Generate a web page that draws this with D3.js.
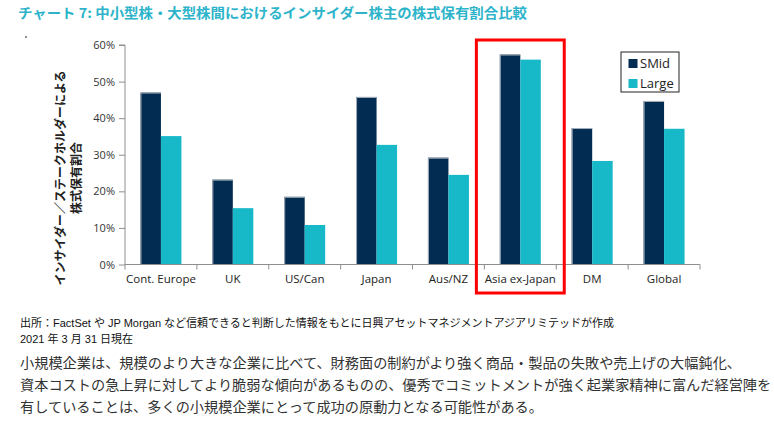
<!DOCTYPE html>
<html><head><meta charset="utf-8">
<script src="https://cdn.jsdelivr.net/npm/d3@7"></script>
<style>
html,body{margin:0;padding:0;background:#fff;}
svg{display:block;}
</style></head>
<body>
<script>
const categories = ["Cont. Europe","UK","US/Can","Japan","Aus/NZ","Asia ex-Japan","DM","Global"];
const seriesNames = ["SMid","Large"];
const smid  = [47.0, 23.2, 18.5, 45.8, 29.2, 57.4, 37.3, 44.7];
const large = [35.1, 15.4, 10.8, 32.7, 24.5, 56.0, 28.3, 37.1];
const yTicks = [0,10,20,30,40,50,60];
const colors = ["#022c52","#17b8c8"];
const highlight = "Asia ex-Japan";
const title = "チャート 7: 中小型株・大型株間におけるインサイダー株主の株式保有割合比較";
const yLabel = ["インサイダー／ステークホルダーによる","株式保有割合"];
const notes = ["出所：FactSet や JP Morgan など信頼できると判断した情報をもとに日興アセットマネジメントアジアリミテッドが作成","2021 年 3 月 31 日現在"];
const body = ["小規模企業は、規模のより大きな企業に比べて、財務面の制約がより強く商品・製品の失敗や売上げの大幅鈍化、",
"資本コストの急上昇に対してより脆弱な傾向があるものの、優秀でコミットメントが強く起業家精神に富んだ経営陣を",
"有していることは、多くの小規模企業にとって成功の原動力となる可能性がある。"];

const W=774,H=428;
const svg=d3.select("body").append("svg").attr("width",W).attr("height",H);
const cjk='"Noto Sans CJK JP","Noto Sans",sans-serif';
const latin='"Open Sans","Noto Sans","Noto Sans CJK JP",sans-serif';

svg.append("text").attr("x",18).attr("y",18).text(title)
  .attr("font-family",cjk).attr("font-weight","bold").attr("font-size",13.5)
  .attr("fill","#2db4ca").attr("textLength",509).attr("lengthAdjust","spacingAndGlyphs");
svg.append("circle").attr("cx",26).attr("cy",37).attr("r",0.8).attr("fill","#000");

const x0=d3.scaleBand().domain(categories).range([125,700]).padding(0);
const bw=20.5;
const x1=d3.scaleBand().domain(seriesNames).range([0,bw*2]).padding(0);
const y=d3.scaleLinear().domain([0,60]).range([264.5,45]);

const axisColor="#8f8f8f";
const gy=svg.append("g").attr("transform","translate(125,0)")
  .call(d3.axisLeft(y).tickValues(yTicks).tickSize(6).tickFormat(d=>d+"%"));
gy.select(".domain").attr("stroke",axisColor).attr("d",`M-6,${y(60)}H0V${y(0)}`);
gy.selectAll(".tick line").attr("stroke",axisColor);
gy.selectAll(".tick text").attr("font-family",latin).attr("font-size",11).attr("fill","#333").attr("x",-10);

const data=categories.map((c,i)=>({c,vals:[smid[i],large[i]]}));
const g=svg.append("g");
data.forEach(d=>{
  const cx=x0(d.c)+x0.bandwidth()/2-bw;
  d.vals.forEach((v,j)=>{
    g.append("rect").attr("x",cx+x1(seriesNames[j])).attr("y",y(v))
      .attr("width",x1.bandwidth()).attr("height",y(0)-y(v)).attr("fill",colors[j]);
  });
  // subtle grey edge on the SMid bar
  const xs=cx+x1("SMid");
  g.append("path").attr("d",`M${xs+0.5},${y(0)}V${y(d.vals[0])+0.5}H${xs+bw}`)
    .attr("fill","none").attr("stroke","#a9b0b8").attr("stroke-width",1);
});

const gx=svg.append("g").attr("transform",`translate(0,${y(0)})`)
  .call(d3.axisBottom(x0).tickSize(0).tickPadding(10));
gx.select(".domain").attr("stroke",axisColor).attr("d","M125,0H700");
gx.selectAll(".tick text").attr("font-family",latin).attr("font-size",11.5).attr("fill","#222");
const bounds=categories.map(c=>x0(c)).concat([x0(categories[categories.length-1])+x0.bandwidth()]);
gx.selectAll(".bt").data(bounds).join("line").attr("x1",d=>d).attr("x2",d=>d)
  .attr("y1",0).attr("y2",5).attr("stroke",axisColor);

// highlight box
const hx=x0(highlight);
svg.append("rect").attr("x",hx-8).attr("y",40).attr("width",x0.bandwidth()+16).attr("height",253)
  .attr("fill","none").attr("stroke","#ff0000").attr("stroke-width",3);

// legend
const lg=svg.append("g").attr("transform","translate(621,52)");
lg.append("rect").attr("width",58).attr("height",40).attr("fill","#fff").attr("stroke","#222").attr("stroke-width",1);
seriesNames.forEach((s,i)=>{
  lg.append("rect").attr("x",7.5).attr("y",7+i*20).attr("width",9).attr("height",9).attr("fill",colors[i]);
  lg.append("text").attr("x",19).attr("y",16+i*20).text(s).attr("font-family",latin).attr("font-size",13).attr("fill","#222");
});

// y label
const yl=svg.append("g").attr("transform","translate(0,178) rotate(-90)");
yLabel.forEach((t,i)=>{
  yl.append("text").attr("x",0).attr("y",65+i*16).attr("text-anchor","middle").text(t)
    .attr("font-family",cjk).attr("font-weight","bold").attr("font-size",12).attr("fill","#222");
});

// notes
notes.forEach((t,i)=>{
  svg.append("text").attr("x",20).attr("y",327+i*16).text(t)
    .attr("font-family",'"Liberation Sans Narrow","Liberation Sans","Noto Sans CJK JP",sans-serif')
    .attr("font-size",11).attr("fill","#111");
});
body.forEach((t,i)=>{
  svg.append("text").attr("x",20).attr("y",368+i*22).text(t)
    .attr("font-family",cjk).attr("font-size",14.2).attr("fill","#333");
});
</script>
</body></html>
